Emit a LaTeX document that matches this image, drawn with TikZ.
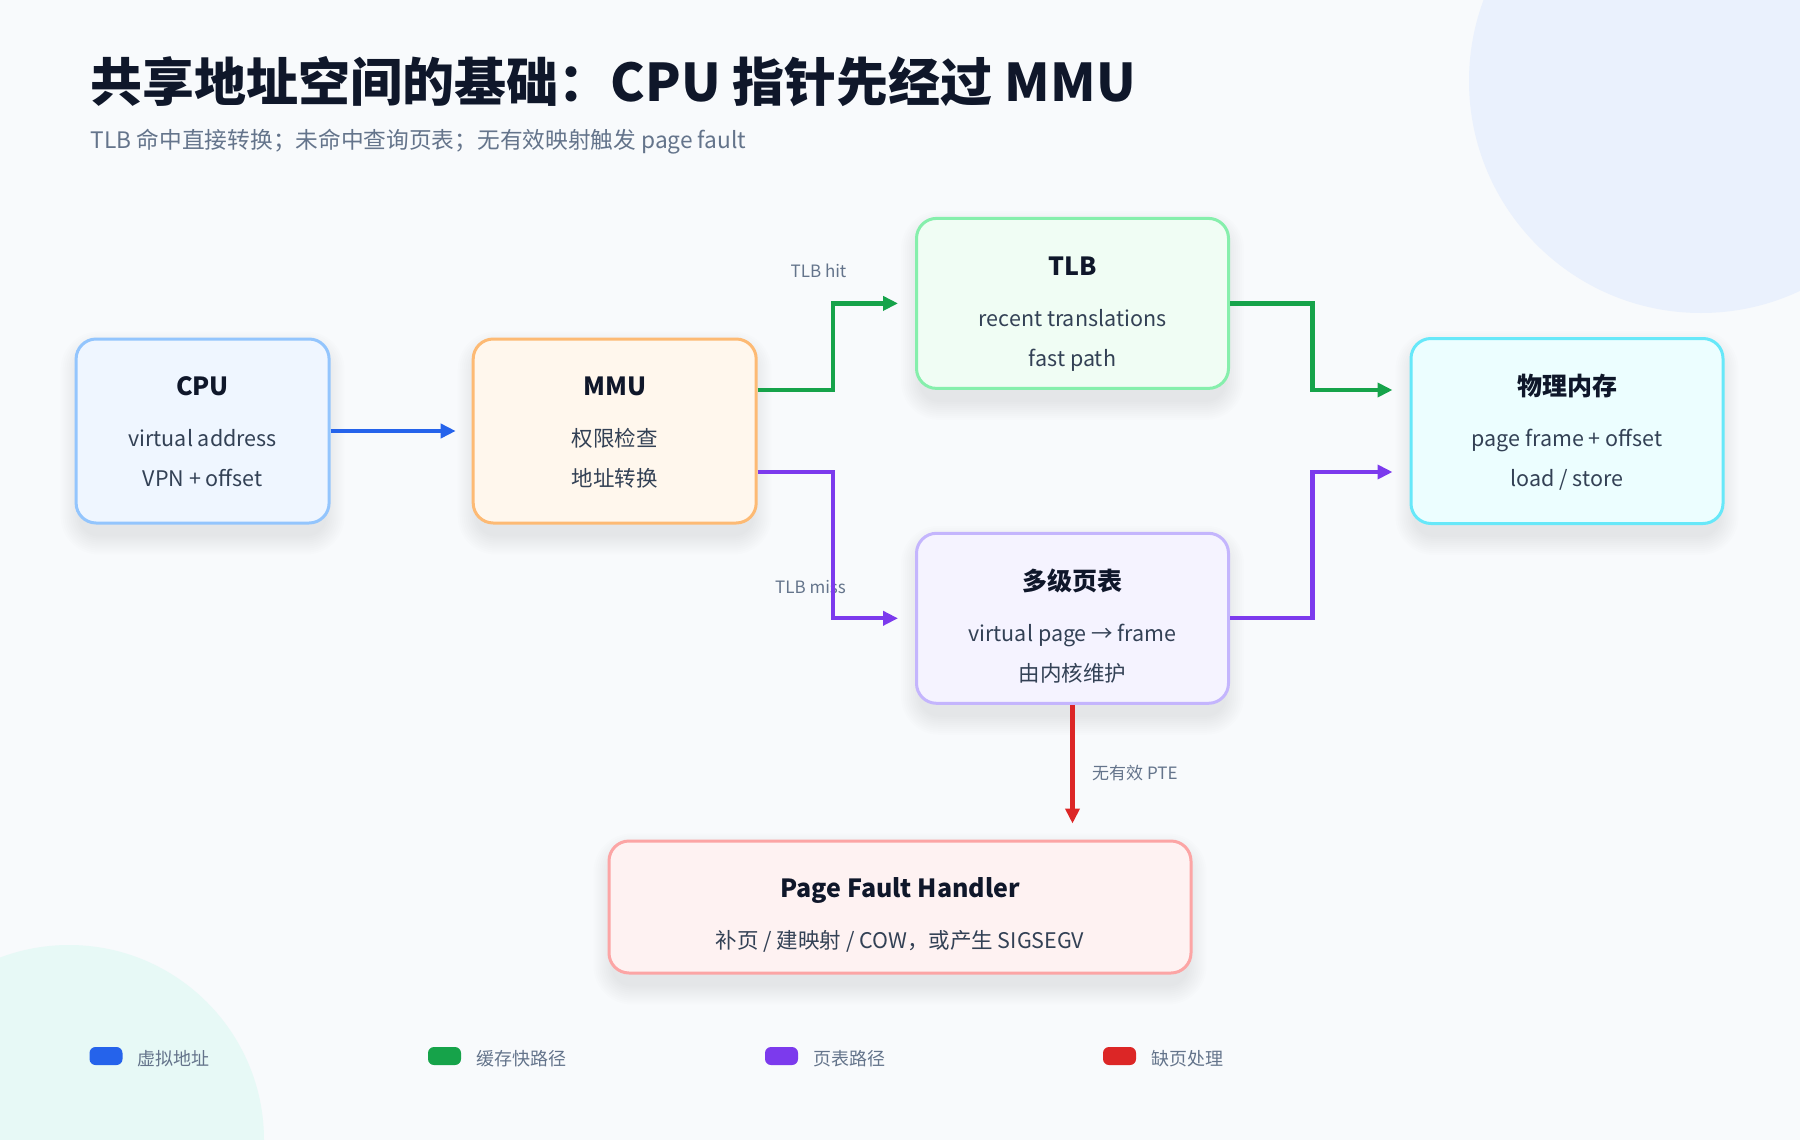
\documentclass[tikz,border=0pt]{standalone}
\usepackage{fontspec}
\setmainfont{Noto Sans CJK SC}
\usetikzlibrary{calc,arrows.meta}
\pgfdeclarelayer{bgl}
\pgfdeclarelayer{shad}
\pgfsetlayers{bgl,shad,main}
\definecolor{bg}{HTML}{F8FAFC}
\definecolor{ink}{HTML}{0F172A}
\definecolor{body}{HTML}{334155}
\definecolor{muted}{HTML}{64748B}
\definecolor{cpuF}{HTML}{EFF6FF}\definecolor{cpuD}{HTML}{93C5FD}
\definecolor{mmuF}{HTML}{FFF7ED}\definecolor{mmuD}{HTML}{FDBA74}
\definecolor{tlbF}{HTML}{F0FDF4}\definecolor{tlbD}{HTML}{86EFAC}
\definecolor{memF}{HTML}{ECFEFF}\definecolor{memD}{HTML}{67E8F9}
\definecolor{ptF}{HTML}{F5F3FF}\definecolor{ptD}{HTML}{C4B5FD}
\definecolor{pfF}{HTML}{FEF2F2}\definecolor{pfD}{HTML}{FCA5A5}
\definecolor{cBlue}{HTML}{2563EB}
\definecolor{cGreen}{HTML}{16A34A}
\definecolor{cPurple}{HTML}{7C3AED}
\definecolor{cRed}{HTML}{DC2626}
\definecolor{decoA}{HTML}{EAF1FD}
\definecolor{decoB}{HTML}{E7F9F6}
\begin{document}
\begin{tikzpicture}[x=1pt,y=-1pt,
  box/.style={draw, line width=3pt, rounded corners=20pt, inner sep=0pt},
  ttl/.style={anchor=base, text=ink, font=\fontsize{25}{30}\selectfont\bfseries, inner sep=0pt},
  txt/.style={anchor=base, text=body, font=\fontsize{21.5}{26}\selectfont, inner sep=0pt},
  lbl/.style={anchor=center, text=muted, font=\fontsize{17}{20}\selectfont, inner sep=0pt},
  conn/.style={line width=4.2pt, -{Triangle[length=15pt,width=14pt]}},
  leg/.style={rounded corners=6pt, minimum width=33pt, minimum height=18pt, inner sep=0pt},
  legt/.style={anchor=west, text=muted, font=\fontsize{18}{22}\selectfont, inner sep=0pt}
]
\begin{pgfonlayer}{bgl}
\path[use as bounding box, fill=bg] (0,0) rectangle (1800,1140);
\fill[decoA] (1701,81) circle (232);
\fill[decoB] (69,1140) circle (195);
\end{pgfonlayer}

% title
\node[anchor=base west, inner sep=0pt, text=ink, font=\fontsize{52}{60}\selectfont\bfseries] (title) at (90.7,101) {共享地址空间的基础：CPU 指针先经过 MMU};
\node[anchor=base west, inner sep=0pt, text=muted, font=\fontsize{22.7}{28}\selectfont] (sub) at (90.7,148) {TLB 命中直接转换；未命中查询页表；无有效映射触发 page fault};

% boxes
\node[box, fill=cpuF, draw=cpuD, minimum width=253pt, minimum height=184pt] (cpu) at (202.6,431) {};
\node[box, fill=mmuF, draw=mmuD, minimum width=283pt, minimum height=184pt] (mmu) at (614.7,431) {};
\node[box, fill=tlbF, draw=tlbD, minimum width=312pt, minimum height=170pt] (tlb) at (1072.5,303.4) {};
\node[box, fill=memF, draw=memD, minimum width=312pt, minimum height=185pt] (mem) at (1567,431) {};
\node[box, fill=ptF, draw=ptD, minimum width=312pt, minimum height=170pt] (pt) at (1072.5,618.3) {};
\node[box, fill=pfF, draw=pfD, minimum width=582pt, minimum height=132pt] (pf) at (900,907) {};

% soft shadows
\begin{pgfonlayer}{shad}
\foreach \n in {cpu,mmu,tlb,mem,pt,pf}{
  \foreach \k in {0,2,...,18}{
    \fill[black, opacity=0.009, rounded corners=20pt+\k pt]
      ($(\n.south west)+(-\k+4,12+\k)$) rectangle ($(\n.north east)+(\k-4,12-\k)$);
  }
}
\end{pgfonlayer}

% box texts
\node[ttl] (cpu-t) at ($(cpu.north)+(0,58)$) {CPU};
\node[txt] (cpu-a) at ($(cpu.north)+(0,109)$) {virtual address};
\node[txt] (cpu-b) at ($(cpu.north)+(0,149)$) {VPN + offset};

\node[ttl] (mmu-t) at ($(mmu.north)+(0,58)$) {MMU};
\node[txt] (mmu-a) at ($(mmu.north)+(0,109)$) {权限检查};
\node[txt] (mmu-b) at ($(mmu.north)+(0,149)$) {地址转换};

\node[ttl] (tlb-t) at ($(tlb.north)+(0,59)$) {TLB};
\node[txt] (tlb-a) at ($(tlb.north)+(0,110)$) {recent translations};
\node[txt] (tlb-b) at ($(tlb.north)+(0,150)$) {fast path};

\node[ttl] (mem-t) at ($(mem.north)+(0,58)$) {物理内存};
\node[txt] (mem-a) at ($(mem.north)+(0,109)$) {page frame + offset};
\node[txt] (mem-b) at ($(mem.north)+(0,149)$) {load / store};

\node[ttl] (pt-t) at ($(pt.north)+(0,59)$) {多级页表};
\node[txt] (pt-a) at ($(pt.north)+(0,110)$) {virtual page → frame};
\node[txt] (pt-b) at ($(pt.north)+(0,150)$) {由内核维护};

\node[ttl] (pf-t) at ($(pf.north)+(0,58)$) {Page Fault Handler};
\node[txt] (pf-a) at ($(pf.north)+(0,109)$) {补页 / 建映射 / COW，或产生 SIGSEGV};

% labels
\node[lbl] (l-hit) at (818.5,271) {TLB hit};
\node[lbl] (l-miss) at (810.5,586.6) {TLB miss};
\node[lbl, anchor=west] (l-pte) at (1092,772.6) {无有效 PTE};

% connectors
\draw[conn, cBlue] (cpu.east) -- ($(mmu.west)+(-16,0)$);
\draw[conn, cGreen] ($(mmu.east)+(0,-41)$) -| ($(tlb.west)+(-82,0)$) -- ($(tlb.west)+(-17,0)$);
\draw[conn, cGreen] (tlb.east) -| ($(mem.west)+(-97,-41)$) -- ($(mem.west)+(-17,-41)$);
\draw[conn, cPurple] ($(mmu.east)+(0,41)$) -| ($(pt.west)+(-82,0)$) -- ($(pt.west)+(-17,0)$);
\draw[conn, cPurple] (pt.east) -| ($(mem.west)+(-97,41)$) -- ($(mem.west)+(-17,41)$);
\draw[conn, cRed] (pt.south) -- ($(pt.south |- pf.north)+(0,-16)$);

% legend
\node[leg, fill=cBlue] (lg1) at (106,1056) {};
\node[legt] (lg1t) at (137.6,1059) {虚拟地址};
\node[leg, fill=cGreen] (lg2) at (444.5,1056) {};
\node[legt] (lg2t) at (476,1059) {缓存快路径};
\node[leg, fill=cPurple] (lg3) at (781.5,1056) {};
\node[legt] (lg3t) at (813,1059) {页表路径};
\node[leg, fill=cRed] (lg4) at (1119.5,1056) {};
\node[legt] (lg4t) at (1151,1059) {缺页处理};
\end{tikzpicture}
\end{document}
